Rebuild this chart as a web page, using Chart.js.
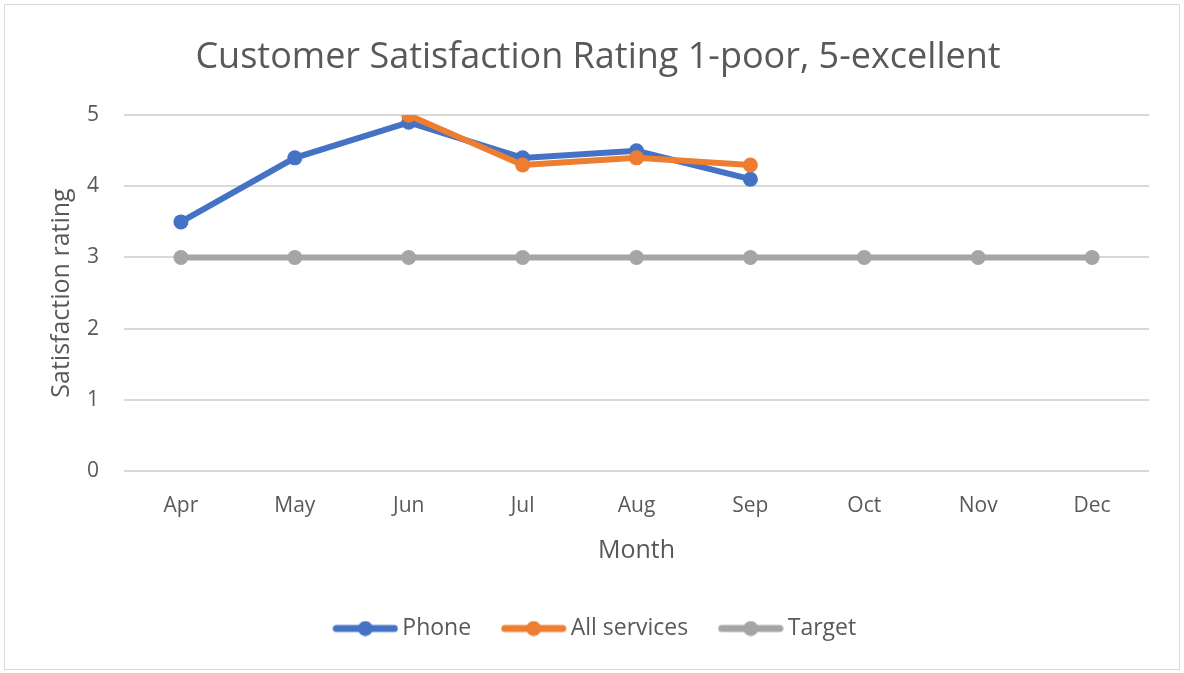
<!DOCTYPE html>
<html>
<head>
<meta charset="utf-8">
<script src="https://cdn.jsdelivr.net/npm/chart.js@4"></script>
<style>
  html, body { margin: 0; padding: 0; background: #fff; }
  #wrap { position: absolute; left: 4px; top: 4px; width: 1174px; height: 664px; border: 1px solid #d9d9d9; }
</style>
</head>
<body>
<div id="wrap"><canvas id="satChart"></canvas></div>
<script>
const months = ['Apr', 'May', 'Jun', 'Jul', 'Aug', 'Sep', 'Oct', 'Nov', 'Dec'];
const phone = [3.5, 4.4, 4.9, 4.4, 4.5, 4.1, null, null, null];
const allServices = [null, null, 5.0, 4.3, 4.4, 4.3, null, null, null];
const target = [3, 3, 3, 3, 3, 3, 3, 3, 3];

const FONT = '"Open Sans", "Noto Sans", sans-serif';
const TEXT = '#595959';

// legend marker: short line with a dot in the middle
function legendMarker(color) {
    const c = document.createElement('canvas');
    c.width = 66;
    c.height = 16;
    const ctx = c.getContext('2d');
    ctx.strokeStyle = color;
    ctx.lineWidth = 7;
    ctx.lineCap = 'round';
    ctx.beginPath();
    ctx.moveTo(4, 8);
    ctx.lineTo(62, 8);
    ctx.stroke();
    ctx.fillStyle = color;
    ctx.beginPath();
    ctx.arc(33, 8, 7.5, 0, Math.PI * 2);
    ctx.fill();
    return c;
}

function series(label, values, color, order) {
    return {
        label: label,
        data: values,
        borderColor: color,
        backgroundColor: color,
        borderWidth: 6,
        pointRadius: 7.5,
        pointHoverRadius: 7.5,
        pointBorderWidth: 0,
        tension: 0,
        order: order
    };
}

const data = {
    labels: months,
    datasets: [
        series('Phone', phone, '#4472c4', 3),
        series('All services', allServices, '#ed7d31', 2),
        series('Target', target, '#a5a5a5', 1)
    ]
};

const config = {
    type: 'line',
    data,
    options: {
        responsive: true,
        maintainAspectRatio: false,
        animation: false,
        layout: {
            padding: { left: 42, right: 30, top: 18, bottom: 19 }
        },
        scales: {
            x: {
                offset: true,
                grid: { display: false },
                border: { display: false },
                ticks: { color: TEXT, font: { family: FONT, size: 21 }, padding: 15 },
                title: { display: true, text: 'Month', color: TEXT, font: { family: FONT, size: 25 }, padding: { top: 2, bottom: 14 } }
            },
            y: {
                min: 0,
                max: 5,
                grid: { color: '#d9d9d9', lineWidth: 2, drawTicks: false },
                border: { display: false },
                ticks: { stepSize: 1, color: TEXT, font: { family: FONT, size: 21 }, padding: 25 },
                title: { display: true, text: 'Satisfaction rating', color: TEXT, font: { family: FONT, size: 25 }, padding: 0 },
                afterFit: function(scale) { scale.width = 77; }
            }
        },
        plugins: {
            title: {
                display: true,
                text: 'Customer Satisfaction Rating 1-poor, 5-excellent',
                color: TEXT,
                font: { family: FONT, size: 36, weight: 'normal' },
                padding: { top: 13, bottom: 36 }
            },
            legend: {
                position: 'bottom',
                labels: {
                    color: TEXT,
                    font: { family: FONT, size: 23 },
                    usePointStyle: true,
                    pointStyleWidth: 51,
                    boxHeight: 16,
                    padding: 37,
                    generateLabels: function(chart) {
                        return chart.data.datasets.map(function(ds, i) {
                            return {
                                text: ds.label,
                                fontColor: TEXT,
                                pointStyle: legendMarker(ds.borderColor),
                                datasetIndex: i,
                                hidden: false,
                                lineWidth: 0
                            };
                        });
                    }
                }
            },
            tooltip: { enabled: false }
        }
    }
};

new Chart(document.getElementById('satChart'), config);
</script>
</body>
</html>
